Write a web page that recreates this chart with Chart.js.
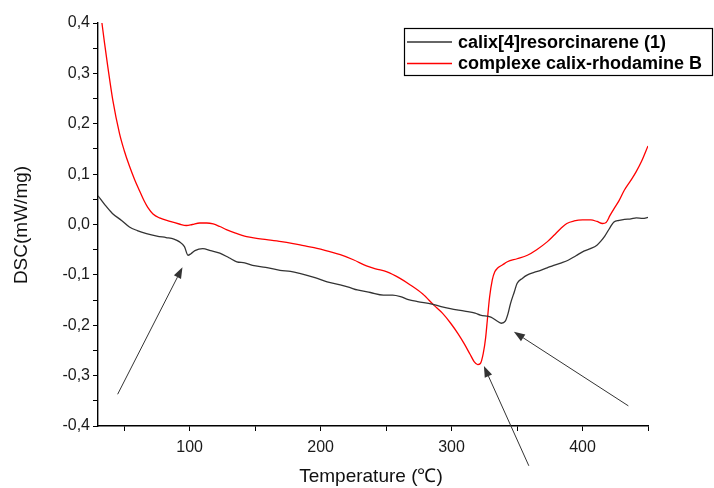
<!DOCTYPE html>
<html>
<head>
<meta charset="utf-8">
<script src="https://cdn.jsdelivr.net/npm/chart.js@4/dist/chart.umd.min.js"></script>
<style>
  html, body { margin: 0; padding: 0; background: #fff; }
  #wrap { width: 714px; height: 488px; }
</style>
</head>
<body>
<div id="wrap"><canvas id="dsc" width="714" height="488"></canvas></div>
<script>
// Black trace: calix[4]resorcinarene (1)
const blackT = [30, 35, 41, 48, 54, 60, 67, 75, 82, 88, 92, 96, 98.7, 101, 104, 110, 116, 123, 130, 136,
  142, 148, 158, 169, 177, 184, 195, 205, 215, 222, 228, 238, 248, 255, 261, 267, 274, 285, 292, 299,
  310, 318, 322, 330, 335, 338, 341, 343, 345, 348, 350, 354, 358, 363, 368, 373, 378, 384, 389, 395,
  401, 406, 411, 414, 417, 421, 424, 428, 432, 437, 441, 446, 450];
const blackDSC = [0.057, 0.040, 0.022, 0.008, -0.005, -0.012, -0.018, -0.023, -0.026, -0.029, -0.034, -0.044, -0.061, -0.058, -0.052, -0.048, -0.052, -0.057, -0.066, -0.074,
  -0.076, -0.081, -0.085, -0.091, -0.093, -0.097, -0.105, -0.114, -0.120, -0.125, -0.130, -0.135, -0.140, -0.140, -0.143, -0.149, -0.153, -0.158, -0.163, -0.167,
  -0.172, -0.176, -0.180, -0.184, -0.192, -0.196, -0.192, -0.178, -0.157, -0.133, -0.117, -0.107, -0.100, -0.095, -0.091, -0.086, -0.081, -0.076, -0.071, -0.062,
  -0.053, -0.048, -0.041, -0.033, -0.023, -0.006, 0.005, 0.008, 0.010, 0.011, 0.013, 0.012, 0.014];

// Red trace: complexe calix-rhodamine B
const redT = [33, 35, 37.5, 41.3, 46.4, 50, 54, 58, 61.7, 65, 68, 72, 77, 85, 92, 97.5, 102, 107.7, 113, 118,
  123, 128, 135, 143.5, 150, 158.8, 170, 179, 187, 195, 207, 215, 225, 235, 242, 250.7, 260, 268.5, 278, 286.4,
  293, 299.3, 305, 309.5, 314, 317.2, 320, 322, 324.2, 326, 327.3, 329, 331.1, 333, 335, 339, 342.6, 350, 357.9, 365,
  373.2, 378, 383.4, 388, 393.6, 400, 406.4, 411, 415.3, 418, 421, 424.2, 428, 431.9, 437, 441, 445, 450];
const redDSC = [0.400, 0.360, 0.313, 0.247, 0.181, 0.147, 0.116, 0.089, 0.067, 0.048, 0.034, 0.021, 0.013, 0.006, 0.001, -0.002, 0.000, 0.003, 0.003, 0.001,
  -0.004, -0.010, -0.017, -0.024, -0.027, -0.030, -0.034, -0.038, -0.042, -0.046, -0.054, -0.060, -0.070, -0.082, -0.088, -0.094, -0.106, -0.120, -0.138, -0.160,
  -0.176, -0.196, -0.217, -0.236, -0.257, -0.272, -0.278, -0.276, -0.256, -0.225, -0.190, -0.145, -0.110, -0.094, -0.087, -0.080, -0.074, -0.068, -0.061, -0.050,
  -0.034, -0.022, -0.008, 0.002, 0.007, 0.009, 0.009, 0.006, 0.002, 0.004, 0.018, 0.032, 0.048, 0.068, 0.088, 0.105, 0.125, 0.156];

const seriesLabels = ['calix[4]resorcinarene (1)', 'complexe calix-rhodamine B'];
const seriesColors = ['#333333', '#ff0000'];

// Annotation arrows, in data units: [tailT, tailDSC, tipT, tipDSC]
const arrows = [
  [45, -0.337, 94.5, -0.085],
  [359, -0.479, 324.7, -0.281],
  [435, -0.360, 347.6, -0.213]
];

const yTitle = 'DSC(mW/mg)';
const xTitle = 'Temperature (\u2103)';

function zip(xs, ys) {
  return xs.map((x, i) => ({ x: x, y: ys[i] }));
}

function fmtY(v) {
  return v.toFixed(1).replace('.', ',');
}

// Arrows, axis titles and framed legend
const extrasPlugin = {
  id: 'extras',
  afterDraw(chart) {
    const ctx = chart.ctx;
    const xs = chart.scales.x;
    const ys = chart.scales.y;
    ctx.save();

    // arrows
    ctx.strokeStyle = '#333';
    ctx.fillStyle = '#333';
    ctx.lineWidth = 1;
    arrows.forEach(a => {
      const x0 = xs.getPixelForValue(a[0]);
      const y0 = ys.getPixelForValue(a[1]);
      const x1 = xs.getPixelForValue(a[2]);
      const y1 = ys.getPixelForValue(a[3]);
      const ang = Math.atan2(y1 - y0, x1 - x0);
      const hl = 11, hw = 4;
      const bx = x1 - hl * Math.cos(ang);
      const by = y1 - hl * Math.sin(ang);
      ctx.beginPath();
      ctx.moveTo(x0, y0);
      ctx.lineTo(bx, by);
      ctx.stroke();
      ctx.beginPath();
      ctx.moveTo(x1, y1);
      ctx.lineTo(bx + hw * Math.sin(ang), by - hw * Math.cos(ang));
      ctx.lineTo(bx - hw * Math.sin(ang), by + hw * Math.cos(ang));
      ctx.closePath();
      ctx.fill();
    });

    // axis titles
    ctx.fillStyle = '#111';
    ctx.font = '19px "Liberation Sans", Arial, sans-serif';
    ctx.textAlign = 'center';
    ctx.textBaseline = 'middle';
    ctx.fillText(xTitle, 371, 477);
    ctx.save();
    ctx.translate(22, 225);
    ctx.rotate(-Math.PI / 2);
    ctx.fillText(yTitle, 0, 0);
    ctx.restore();

    // legend
    const lx = 404, ly = 28, lw = 309, lh = 48;
    ctx.fillStyle = '#fff';
    ctx.fillRect(lx, ly, lw, lh);
    ctx.strokeStyle = '#000';
    ctx.lineWidth = 1.2;
    ctx.strokeRect(lx + 0.5, ly + 0.5, lw - 1, lh - 1);
    ctx.font = 'bold 18px "Liberation Sans", Arial, sans-serif';
    ctx.textAlign = 'left';
    ctx.textBaseline = 'middle';
    chart.data.datasets.forEach((ds, i) => {
      const cy = ly + 14 + i * 21.5;
      ctx.strokeStyle = ds.borderColor;
      ctx.lineWidth = 1.5;
      ctx.beginPath();
      ctx.moveTo(407, cy);
      ctx.lineTo(452, cy);
      ctx.stroke();
      ctx.fillStyle = '#000';
      ctx.fillText(ds.label, 458, cy + 1);
    });

    ctx.restore();
  }
};

new Chart(document.getElementById('dsc'), {
  type: 'line',
  data: {
    datasets: [
      {
        label: seriesLabels[0],
        data: zip(blackT, blackDSC),
        borderColor: seriesColors[0],
        borderWidth: 1.3,
        pointRadius: 0,
        cubicInterpolationMode: 'monotone'
      },
      {
        label: seriesLabels[1],
        data: zip(redT, redDSC),
        borderColor: seriesColors[1],
        borderWidth: 1.3,
        pointRadius: 0,
        cubicInterpolationMode: 'monotone'
      }
    ]
  },
  options: {
    responsive: false,
    animation: false,
    devicePixelRatio: 1,
    layout: { padding: { top: 23, right: 66, left: 0, bottom: 0 } },
    plugins: {
      legend: { display: false },
      tooltip: { enabled: false }
    },
    scales: {
      x: {
        type: 'linear',
        min: 30,
        max: 450,
        afterFit: s => { s.height = 62; },
        border: { display: true, color: '#000', width: 1.4 },
        grid: { drawOnChartArea: false, drawTicks: true, tickLength: 5, color: '#000' },
        ticks: {
          stepSize: 50,
          includeBounds: false,
          autoSkip: false,
          maxRotation: 0,
          padding: 7,
          color: '#1a1a1a',
          font: { family: '"Liberation Sans", Arial, sans-serif', size: 16 },
          callback: v => (Math.round(v) % 100 === 0 ? String(Math.round(v)) : '')
        }
      },
      y: {
        type: 'linear',
        min: -0.4,
        max: 0.4,
        afterFit: s => { s.width = 98; },
        border: { display: true, color: '#000', width: 1.4 },
        grid: { drawOnChartArea: false, drawTicks: true, tickLength: 5, color: '#000' },
        ticks: {
          stepSize: 0.05,
          autoSkip: false,
          padding: 3,
          color: '#1a1a1a',
          font: { family: '"Liberation Sans", Arial, sans-serif', size: 16 },
          callback: v => (Math.round(v * 100) % 10 === 0 ? fmtY(v) : '')
        }
      }
    }
  },
  plugins: [extrasPlugin]
});
</script>
</body>
</html>
